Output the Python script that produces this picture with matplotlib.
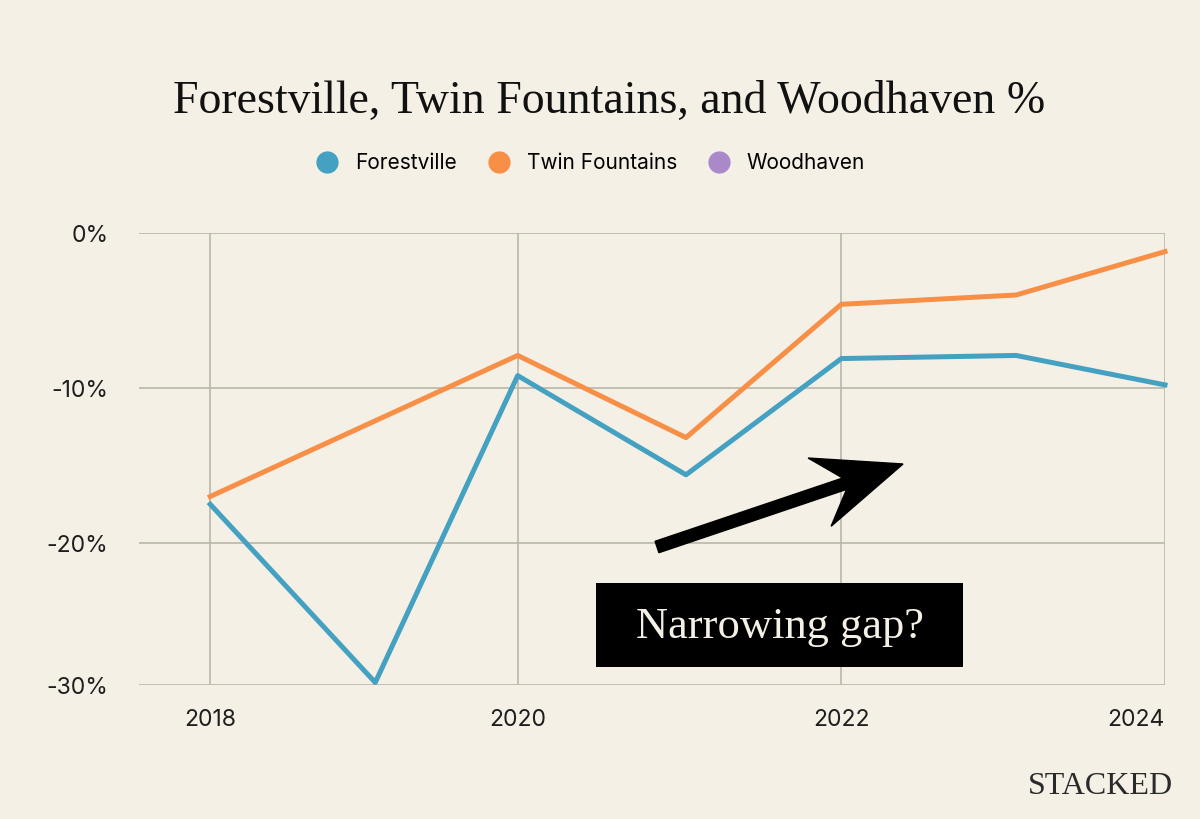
import matplotlib
matplotlib.use("Agg")
import matplotlib.pyplot as plt
from matplotlib.lines import Line2D
from matplotlib.patches import Rectangle, FancyArrow
from matplotlib.transforms import IdentityTransform

# data (x in fractional years, y in %)
forestville_x = [2018.10, 2019.12, 2020.0, 2021.04, 2022.0, 2023.08, 2024.0]
forestville = [-17.5, -29.0, -9.2, -15.6, -8.1, -7.9, -9.8]
twin_x = [2018.10, 2020.0, 2021.04, 2022.0, 2023.08, 2024.0]
twin_fountains = [-17.0, -7.9, -13.2, -4.6, -4.0, -1.2]
woodhaven_x = []
woodhaven = []

series_names = ["Forestville", "Twin Fountains", "Woodhaven"]
series_colors = ["#44a1c1", "#f78f47", "#aa89c9"]
year_labels = ["2018", "2020", "2022", "2024"]
y_labels = ["0%", "-10%", "-20%", "-30%"]

BG = "#f5f0e6"
GRID = "#b8b7a8"
SANS = ["Inter", "DejaVu Sans"]
SERIF = ["Liberation Serif", "DejaVu Serif"]


def main():
    fig = plt.figure(figsize=(12, 8.19), dpi=100, facecolor=BG)
    ax = fig.add_axes([139 / 1200, 1 - 685 / 819, 1026 / 1200, 452 / 819])
    ax.set_facecolor(BG)

    y_bottom = -29.16
    ax.set_ylim(y_bottom, 0)
    ax.set_xlim(2017.66, 2024.0)

    #plot the series
    xs = [forestville_x, twin_x, woodhaven_x]
    ys = [forestville, twin_fountains, woodhaven]
    for x, y, c in zip(xs, ys, series_colors):
        ax.plot(x, y, color=c, lw=3.6, clip_on=False, zorder=3)

    #ticks and grid
    ax.set_xticks([forestville_x[0], forestville_x[2], forestville_x[4], forestville_x[6]])
    ax.set_xticklabels(year_labels, fontfamily=SANS, fontsize=16.5, color="#1e1e1e")
    ax.set_yticks([0, -10, -20, y_bottom])
    ax.set_yticklabels(y_labels, fontfamily=SANS, fontsize=16.5, color="#1e1e1e")
    ax.tick_params(axis="x", length=0, pad=17)
    ax.tick_params(axis="y", length=0, pad=22)
    ax.get_xticklabels()[-1].set_horizontalalignment("right")
    ax.grid(True, color=GRID, lw=1.2)
    for s in ax.spines.values():
        s.set_visible(False)

    #title and legend
    fig.text(0.508, 1 - 102 / 819, "Forestville, Twin Fountains, and Woodhaven %",
             fontfamily=SERIF, fontsize=33, ha="center", va="center", color="#111111")
    handles = [Line2D([], [], ls="none", marker="o", ms=15, color=c) for c in series_colors]
    fig.legend(handles, series_names, loc="center", bbox_to_anchor=(0.4925, 1 - 163 / 819),
               ncol=3, frameon=False, handlelength=1, handletextpad=0.85, columnspacing=1.5,
               prop={"family": SANS, "size": 15})

    #annotation box and arrow
    fig.patches.append(Rectangle((596 / 1200, 1 - 667 / 819), 367 / 1200, 84 / 819,
                                 transform=fig.transFigure, facecolor="black", edgecolor="none"))
    fig.text(779.5 / 1200, 1 - 627 / 819, "Narrowing gap?", fontfamily=SERIF, fontsize=32,
             ha="center", va="center", color=BG)
    arrow = FancyArrow(657, 819 - 547, 246, 83, width=12, head_width=72, head_length=88,
                       length_includes_head=True, overhang=0.3, color="black",
                       transform=IdentityTransform())
    fig.patches.append(arrow)

    fig.text(1173 / 1200, 1 - 787 / 819, "STACKED", fontfamily=SERIF, fontsize=23,
             ha="right", va="center", color="#2a2a2a")

    fig.savefig("out.png", dpi=100, facecolor=BG)


if __name__ == "__main__":
    main()
